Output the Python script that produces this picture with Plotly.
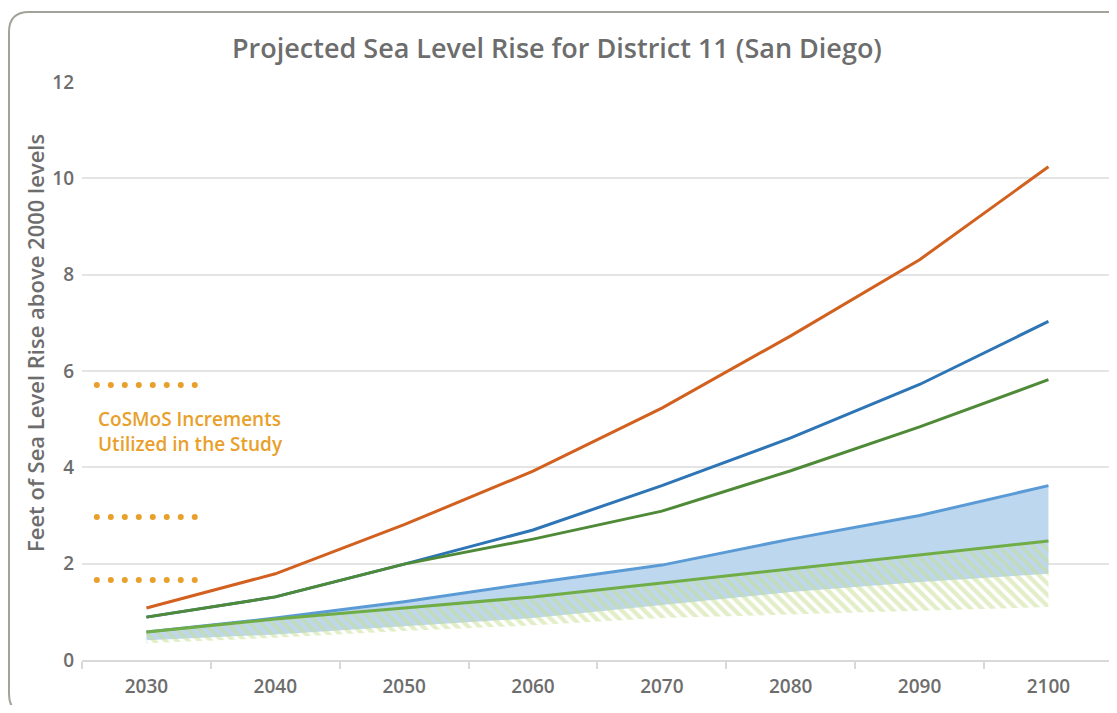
import numpy as np
import plotly.graph_objects as go

years = [2030, 2040, 2050, 2060, 2070, 2080, 2090, 2100]
high_orange = [1.08, 1.79, 2.81, 3.92, 5.23, 6.73, 8.31, 10.24]
high_blue = [0.89, 1.31, 1.99, 2.70, 3.62, 4.61, 5.72, 7.03]
high_green = [0.89, 1.31, 1.99, 2.51, 3.09, 3.93, 4.84, 5.82]
band_blue_top = [0.58, 0.87, 1.21, 1.60, 1.97, 2.51, 3.00, 3.62]
band_blue_low = [0.41, 0.53, 0.70, 0.87, 1.14, 1.41, 1.62, 1.79]
band_green_top = [0.58, 0.85, 1.08, 1.31, 1.60, 1.89, 2.18, 2.47]
band_green_low = [0.35, 0.46, 0.60, 0.72, 0.87, 0.94, 1.02, 1.10]
cosmos_levels = [1.66, 2.97, 5.71]
y_ticks = [0, 2, 4, 6, 8, 10, 12]
x_boundaries = [2025, 2035, 2045, 2055, 2065, 2075, 2085, 2095, 2105]

TXT = "#6d6d6d"
GOLD = "#e8a02a"
FONT = "Open Sans"

# The page places the figure 8px from the top-left corner.
OFF = 8
W, H = 1101, 697
L, R, T, B = 74, 0, 74, 45
PW, PH = W - L - R, H - T - B


def px(xs):
    """screen x pixel -> paper x"""
    return (xs - OFF - L) / PW


def py(ys):
    """screen y pixel -> paper y"""
    return (H - B - (ys - OFF)) / PH


fig = go.Figure()

# Blue band (solid fill)
fig.add_trace(go.Scatter(x=years, y=band_blue_low, mode="lines",
                         line=dict(width=0, color="rgba(0,0,0,0)"),
                         showlegend=False, hoverinfo="skip"))
fig.add_trace(go.Scatter(x=years, y=band_blue_top, mode="lines",
                         line=dict(width=3, color="#5b9bd5"),
                         fill="tonexty", fillcolor="#bdd7ee",
                         showlegend=False))
# Green hatched band
fig.add_trace(go.Scatter(x=years, y=band_green_low, mode="lines",
                         line=dict(width=0, color="rgba(0,0,0,0)"),
                         showlegend=False, hoverinfo="skip"))
fig.add_trace(go.Scatter(x=years, y=band_green_top, mode="lines",
                         line=dict(width=3, color="#70ad47"),
                         fill="tonexty",
                         fillpattern=dict(shape="\\", fgcolor="#c6de92",
                                          bgcolor="rgba(0,0,0,0)",
                                          size=8, solidity=0.55),
                         showlegend=False))
# Upper scenario lines
fig.add_trace(go.Scatter(x=years, y=high_orange, mode="lines",
                         line=dict(width=3, color="#d2601f"), showlegend=False))
fig.add_trace(go.Scatter(x=years, y=high_blue, mode="lines",
                         line=dict(width=3, color="#2e75b6"), showlegend=False))
fig.add_trace(go.Scatter(x=years, y=high_green, mode="lines",
                         line=dict(width=3, color="#4e8a37"), showlegend=False))

# CoSMoS dotted markers
dot_x = np.linspace(2026.15, 2033.75, 8)
for lvl in cosmos_levels:
    fig.add_trace(go.Scatter(x=dot_x, y=[lvl] * len(dot_x), mode="markers",
                             marker=dict(size=6, color=GOLD),
                             showlegend=False, hoverinfo="skip"))

# Card border (rounded rectangle, right and bottom edges run off the page)
x0, x1 = px(9), px(1127)
y0, y1 = py(714), py(12)
rx = 20 / PW
ry = 20 / PH
path = (f"M {x0},{y0 + ry} L {x0},{y1 - ry} Q {x0},{y1} {x0 + rx},{y1} "
        f"L {x1 - rx},{y1} Q {x1},{y1} {x1},{y1 - ry} "
        f"L {x1},{y0 + ry} Q {x1},{y0} {x1 - rx},{y0} "
        f"L {x0 + rx},{y0} Q {x0},{y0} {x0},{y0 + ry} Z")
fig.add_shape(type="path", path=path, xref="paper", yref="paper",
              line=dict(color="#a3a39b", width=2), layer="below")

fig.add_annotation(x=px(557), y=py(47), xref="paper", yref="paper",
                   text="Projected Sea Level Rise for District 11 (San Diego)",
                   showarrow=False, xanchor="center", yanchor="middle",
                   font=dict(family=FONT, size=27, color="#6d6d6d", weight=600))
fig.add_annotation(x=px(35), y=py(343), xref="paper", yref="paper",
                   text="Feet of Sea Level Rise above 2000 levels",
                   textangle=-90, showarrow=False,
                   xanchor="center", yanchor="middle",
                   font=dict(family=FONT, size=22, color=TXT, weight=600))
fig.add_annotation(x=px(96), y=py(431), xref="paper", yref="paper",
                   text="CoSMoS Increments<br>Utilized in the Study",
                   showarrow=False, xanchor="left", yanchor="middle", align="left",
                   font=dict(family=FONT, size=19, color=GOLD, weight=600))

fig.update_layout(
    width=W, height=H,
    margin=dict(l=L, r=R, t=T, b=B),
    paper_bgcolor="white", plot_bgcolor="white",
    showlegend=False,
    xaxis=dict(range=[2025, 2104.7], tickmode="array", tickvals=years,
               ticktext=[str(y) for y in years], ticks="",
               showgrid=False, zeroline=False,
               showline=True, linecolor="#d9d9d9", linewidth=2,
               ticklabelstandoff=8,
               tickfont=dict(family=FONT, size=19, color=TXT, weight=600),
               minor=dict(tickmode="array", tickvals=x_boundaries,
                          ticks="outside", ticklen=7, tickwidth=2,
                          tickcolor="#d9d9d9", showgrid=False)),
    yaxis=dict(range=[0, 12], tickmode="array", tickvals=y_ticks,
               ticks="", showline=False, zeroline=False,
               showgrid=True, gridcolor="#e4e4e4", gridwidth=2,
               ticklabelstandoff=7,
               tickfont=dict(family=FONT, size=19, color=TXT, weight=600)),
)

fig.write_html("out.html")
